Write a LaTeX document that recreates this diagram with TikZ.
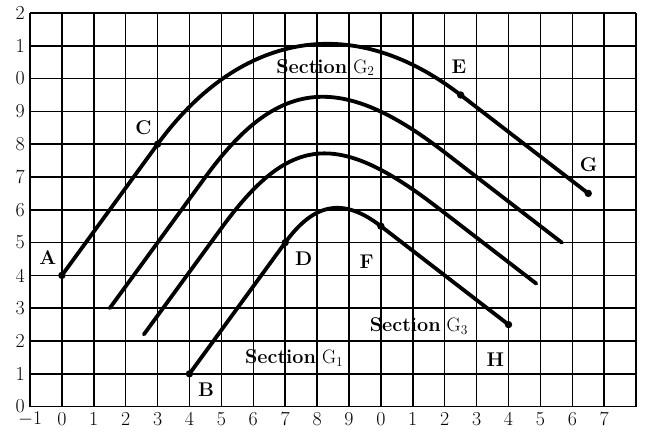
\documentclass[tikz,border=0pt]{standalone}
\begin{document}
\begin{tikzpicture}[x=1cm,y=1.0282cm,
  gridline/.style={line width=1.3pt},
  curve/.style={line width=3.4pt, line cap=round, line join=round},
  dot/.style={circle, fill=black, inner sep=0pt, minimum size=6.6pt},
  lbl/.style={font=\fontsize{17.7}{21}\selectfont\bfseries, anchor=base, inner sep=0pt},
  sec/.style={font=\fontsize{17.7}{21}\selectfont, anchor=base, inner sep=0pt},
  num/.style={font=\fontsize{17.7}{21}\selectfont, inner sep=0pt}]
\useasboundingbox (-1.94,-0.762) rectangle (18.31,12.396);
\foreach \x in {-1,...,18}
  \draw[gridline] (\x,0) -- (\x,12);
\foreach \y in {0,...,12}
  \draw[gridline] (-1,\y) -- (18,\y);
% axis labels
\node[num] (xm1) at (-1,-0.37) {$-1$};
\foreach \x/\t in {0/0,1/1,2/2,3/3,4/4,5/5,6/6,7/7,8/8,9/9,10/0,11/1,12/2,13/3,14/4,15/5,16/6,17/7}
  \node[num] (xl\x) at (\x,-0.37) {\t};
\foreach \y/\t in {0/0,1/1,2/2,3/3,4/4,5/5,6/6,7/7,8/8,9/9,10/0,11/1,12/2}
  \node[num] (yl\y) at (-1.31,\y) {\t};
% key points
\coordinate (A) at (0,4);
\coordinate (C) at (3,8);
\coordinate (E) at (12.5,9.5);
\coordinate (G) at (16.5,6.5);
\coordinate (B) at (4,1);
\coordinate (D) at (7,5);
\coordinate (F) at (10,5.5);
\coordinate (H) at (14,2.5);
\coordinate (s2) at (1.5,3);
\coordinate (a2) at (4.5,7);
\coordinate (b2) at (12,7.75);
\coordinate (e2) at (15.67,5.0);
\coordinate (s3) at (2.57,2.2);
\coordinate (a3) at (5,5.44);
\coordinate (b3) at (11.8,6.05);
\coordinate (e3) at (14.87,3.75);
% curves
\draw[curve] (A) -- (C) .. controls (5.4,11.2) and (8.9,12.2) .. (E) -- (G);
\draw[curve] (s2) -- (a2) .. controls (6.76,10.02) and (8.72,10.21) .. (b2) -- (e2);
\draw[curve] (s3) -- (a3) .. controls (7.143,8.298) and (8.626,8.431) .. (b3) -- (e3);
\draw[curve] (B) -- (D) .. controls (7.9,6.2) and (8.8,6.4) .. (F) -- (H);
% dots
\foreach \p in {A,C,E,G,B,D,F,H}
  \node[dot] (d\p) at (\p) {};
% letter labels
\node[lbl] (lA) at (-0.44,4.33) {A};
\node[lbl] (lC) at (2.56,8.29) {C};
\node[lbl] (lE) at (12.45,10.17) {E};
\node[lbl] (lG) at (16.51,7.17) {G};
\node[lbl] (lD) at (7.58,4.30) {D};
\node[lbl] (lF) at (9.55,4.20) {F};
\node[lbl] (lH) at (13.59,1.23) {H};
\node[lbl] (lB) at (4.52,0.31) {B};
% section labels
\node[sec] (sec2) at (8.26,10.17) {\textbf{Section} $\mathrm{G}_2$};
\node[sec] (sec3) at (11.19,2.30) {\textbf{Section} $\mathrm{G}_3$};
\node[sec] (sec1) at (7.28,1.31) {\textbf{Section} $\mathrm{G}_1$};
\end{tikzpicture}
\end{document}
